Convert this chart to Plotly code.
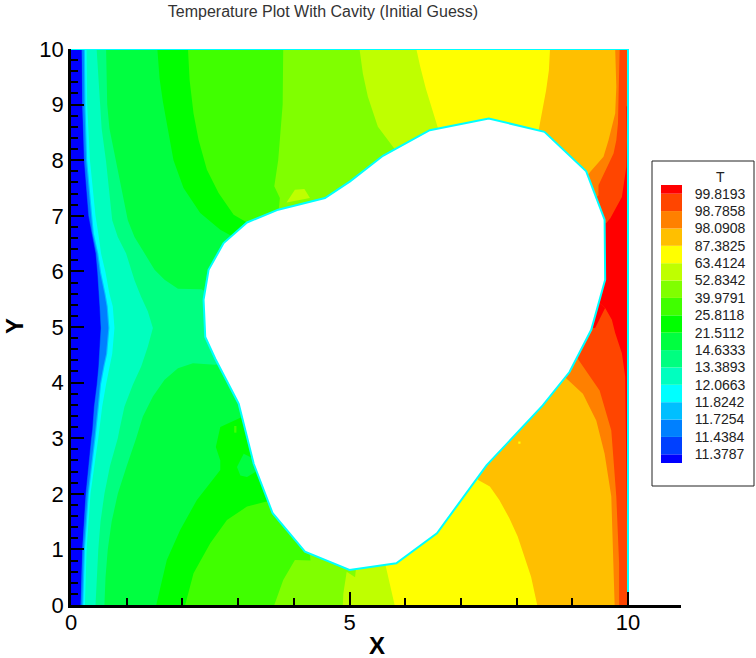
import plotly.graph_objects as go

W, H = 756, 658

# Contour band colours, lowest temperature first
band_colors = ["#0000FF", "#0040FF", "#0080FF", "#00BFFF", "#00FFFF", "#00FFBF", "#00FF80", "#00FF40",
               "#00FF00", "#40FF00", "#80FF00", "#BFFF00", "#FFFF00", "#FFBF00", "#FF8000", "#FF4500", "#FF0000"]
legend_labels = ["11.3787", "11.4384", "11.7254", "11.8242", "12.0663", "13.3893", "14.6333", "21.5112",
                 "25.8118", "39.9791", "52.8342", "63.4124", "87.3825", "98.0908", "98.7858", "99.8193"]

domain_x = [0, 10, 10, 0]
domain_y = [0, 0, 10, 10]

# Isolines, top of the domain to bottom; everything to the right is the next band
iso_y = [10, 9, 8, 7, 6.68, 6.32, 5.98, 5.6, 5.37, 4.98, 4.52, 4.29, 3.97, 3.57, 3.15, 3, 2, 1, 0]
iso_0040FF_x = [.19, .20, .23, .31, .37, .44, .47, .50, .51, .53, .51, .49, .46, .41, .38, .36, .26, .20, .17]
iso_0080FF_x = [.195, .205, .24, .32, .38, .45, .48, .51, .52, .54, .52, .50, .47, .42, .39, .37, .27, .205, .175]
iso_00BFFF_x = [.23, .24, .27, .36, .39, .47, .52, .60, .64, .67, .63, .58, .52, .48, .44, .42, .30, .23, .20]
iso_00FFFF_x = [.25, .26, .29, .38, .41, .49, .54, .62, .66, .69, .65, .60, .54, .50, .46, .44, .32, .25, .22]
iso_00FFBF_x = [.28, .29, .34, .44, .49, .54, .62, .69, .75, .78, .74, .69, .63, .56, .51, .49, .35, .28, .25]

iso_00FF80 = [(.46, 10), (.49, 9.47), (.55, 8.57), (.63, 7.97), (.74, 6.92), (.84, 6.62), (.99, 6.32), (1.14, 5.84),
              (1.26, 5.54), (1.38, 5.28), (1.47, 4.98), (1.38, 4.65), (1.26, 4.29), (1.11, 3.96), (.96, 3.57),
              (.87, 3.15), (.84, 3), (.70, 2.5), (.60, 2), (.53, 1.5), (.49, 1), (.44, 0)]
iso_00FF40 = [(.63, 10), (.65, 9), (.69, 8.57), (.81, 7.97), (1.02, 6.92), (1.14, 6.62), (1.32, 6.32), (1.5, 6.03),
              (1.68, 5.85), (1.92, 5.69), (2.34, 5.68), (2.5, 5.6), (2.7, 4.34), (2.58, 4.32), (2.19, 4.35),
              (1.92, 4.26), (1.68, 4.05), (1.47, 3.75), (1.29, 3.39), (1.17, 3), (1.0, 2.5), (.84, 2), (.73, 1.5),
              (.66, 1), (.62, .5), (.6, 0)]
iso_00FF00 = [(1.55, 10), (1.59, 9.47), (1.65, 9.05), (1.74, 8.57), (1.84, 8), (2.02, 7.5), (2.32, 7.05), (2.68, 6.75),
              (2.95, 6.6), (3.3, 3.4), (3.04, 3.37), (2.68, 3.2), (2.6, 2.84), (2.68, 2.6), (2.68, 2.43), (2.26, 1.89),
              (1.96, 1.35), (1.72, .81), (1.53, 0)]
iso_40FF00 = [(2.1, 10), (2.13, 9.44), (2.2, 8.84), (2.29, 8.37), (2.44, 7.83), (2.65, 7.41), (2.92, 7.02), (3.16, 6.88),
              (3.3, 6.75), (3.7, 1.85), (3.51, 1.86), (3.16, 1.77), (2.8, 1.53), (2.5, 1.11), (2.2, .57), (2.05, 0)]
iso_80FF00 = [(3.81, 10), (3.8, 9), (3.76, 8.5), (3.72, 8), (3.65, 7.53), (3.75, 7.32), (3.72, 7.0), (4.3, .8),
              (4.02, .81), (3.81, .45), (3.65, 0)]
iso_BFFF00 = [(5.18, 10), (5.24, 9.56), (5.33, 9.14), (5.51, 8.6), (5.81, 8.2), (5.9, 8.0), (5.1, .5), (4.95, .6),
              (4.89, .21), (4.88, 0)]
iso_FFFF00 = [(6.2, 10), (6.27, 9.68), (6.37, 9.29), (6.47, 8.96), (6.59, 8.57), (6.7, 8.3), (5.75, 1.0), (5.65, .7), (5.81, 0)]
iso_FFBF00 = [(8.6, 10), (8.58, 9.62), (8.53, 9.26), (8.46, 8.84), (8.4, 8.56), (8.3, 8.2), (7.2, 2.6), (7.31, 2.25),
              (7.52, 2.13), (7.69, 1.89), (7.87, 1.56), (8.02, 1.23), (8.14, .87), (8.26, .51), (8.37, 0)]
iso_FF8000 = [(9.77, 10), (9.79, 9.32), (9.77, 8.84), (9.7, 8.55), (9.65, 8.36), (9.56, 8.06), (9.32, 7.79), (9.1, 7.5),
              (8.7, 4.3), (8.89, 4.08), (9.19, 3.8), (9.43, 3.32), (9.58, 2.72), (9.7, 1.95), (9.73, 1.05), (9.76, 0)]
iso_FF4500 = [(9.85, 10), (9.84, 9.32), (9.82, 8.66), (9.79, 8.36), (9.74, 8.12), (9.47, 7.55), (9.47, 7.37), (9.3, 7.2),
              (9.0, 4.6), (9.11, 4.41), (9.26, 4.2), (9.49, 3.86), (9.7, 3.14), (9.79, 1.95), (9.84, .75), (9.84, 0)]
iso_FF0000 = [(10, 10), (10, 9), (9.97, 8.96), (9.98, 8.36), (9.97, 7.88), (9.89, 7.34), (9.68, 6.95), (9.61, 6.87),
              (9.3, 6.8), (9.3, 5.6), (9.59, 5.34), (9.71, 5.13), (9.77, 4.89), (9.89, 4.53), (9.95, 4.11), (9.97, 2.54),
              (10, .27), (10, 0)]

# Small islands inside a band
island_green_x = [3.28, 3.1, 2.98, 3.04, 3.16, 3.31]
island_green_y = [2.63, 2.72, 2.48, 2.33, 2.3, 2.39]
speck_lime_x = [2.93, 2.97, 2.97, 2.93]
speck_lime_y = [3.22, 3.22, 3.1, 3.1]
island_yellowgreen_x = [4.02, 4.19, 4.29, 3.87]
island_yellowgreen_y = [7.47, 7.48, 7.32, 7.24]
speck_yellow_x = [8.03, 8.07, 8.07, 8.03]
speck_yellow_y = [2.94, 2.94, 2.9, 2.9]
wedge_red_x = [9.3, 9.59, 9.41, 9.2]
wedge_red_y = [5.6, 5.34, 4.98, 5.0]

# Cavity outline
cavity_x = [2.38, 2.47, 2.74, 3.16, 3.72, 4.56, 5.01, 5.6, 6.44, 7.5, 8.5, 9.25, 9.58, 9.59, 9.34, 8.95, 8.47, 7.46,
            6.57, 5.84, 5.0, 4.2, 3.62, 3.28, 3.01, 2.59, 2.41, 2.38]
cavity_y = [5.49, 6.03, 6.51, 6.88, 7.11, 7.32, 7.62, 8.08, 8.54, 8.75, 8.51, 7.8, 6.93, 5.85, 4.95, 4.19, 3.59, 2.51,
            1.29, .75, .63, .96, 1.65, 2.54, 3.62, 4.43, 4.82, 5.49]

edge_x = [0, 10, 10]
edge_y = [10, 10, 0]

x_ticks = [0, 5, 10]
x_minor_ticks = [1, 2, 3, 4, 6, 7, 8, 9]
y_ticks = [0, 1, 2, 3, 4, 5, 6, 7, 8, 9, 10]

fig = go.Figure()


def poly(xs, ys, color):
    fig.add_trace(go.Scatter(x=xs, y=ys, mode="lines", fill="toself", fillcolor=color,
                             line=dict(width=0, color=color), hoverinfo="skip", showlegend=False))


def right_of(pts, color):
    xs = [p[0] for p in pts] + [10, 10]
    ys = [p[1] for p in pts] + [0, 10]
    poly(xs, ys, color)


poly(domain_x, domain_y, band_colors[0])
for xs, c in zip([iso_0040FF_x, iso_0080FF_x, iso_00BFFF_x, iso_00FFFF_x, iso_00FFBF_x], band_colors[1:6]):
    right_of(list(zip(xs, iso_y)), c)
for pts, c in zip([iso_00FF80, iso_00FF40, iso_00FF00, iso_40FF00, iso_80FF00, iso_BFFF00, iso_FFFF00, iso_FFBF00,
                   iso_FF8000, iso_FF4500, iso_FF0000], band_colors[6:]):
    right_of(pts, c)

poly(island_green_x, island_green_y, "#00FF40")
poly(speck_lime_x, speck_lime_y, "#40FF00")
poly(island_yellowgreen_x, island_yellowgreen_y, "#BFFF00")
poly(speck_yellow_x, speck_yellow_y, "#FFFF00")
poly(wedge_red_x, wedge_red_y, "#FF0000")

fig.add_trace(go.Scatter(x=edge_x, y=edge_y, mode="lines", line=dict(color="#00FFFF", width=2),
                         hoverinfo="skip", showlegend=False, cliponaxis=False))
fig.add_trace(go.Scatter(x=cavity_x, y=cavity_y, mode="lines", fill="toself", fillcolor="#FFFFFF",
                         line=dict(color="#00FFFF", width=2), hoverinfo="skip", showlegend=False))

# Colour bar: half a swatch at both ends, labels on the swatch boundaries
heights = [0.5] + [1] * 15 + [0.5]
bases = [sum(heights[:i]) for i in range(len(heights))]
fig.add_trace(go.Bar(x=["T"] * len(heights), y=heights, base=bases, width=1, marker=dict(color=band_colors, line=dict(width=0)),
                     xaxis="x2", yaxis="y2", hoverinfo="skip", showlegend=False))

font_main = "Liberation Sans"
axis_title_font = dict(family=font_main, size=24, color="black")
fig.update_layout(
    width=W, height=H, autosize=False, margin=dict(l=0, r=0, t=0, b=0, autoexpand=False),
    paper_bgcolor="white", plot_bgcolor="white", barmode="overlay",
    title=dict(text="Temperature Plot With Cavity (Initial Guess)", x=323 / W, xanchor="center",
               y=1 - 11 / H, yanchor="middle", font=dict(family=font_main, size=16, color="#333333")),
    xaxis=dict(domain=[71 / W, 681 / W], range=[0, 610 / 55.7], tickmode="array", tickvals=x_ticks, automargin=False,
               ticks="inside", ticklen=13, tickwidth=2, tickcolor="black", showgrid=False, zeroline=False,
               ticklabelstandoff=-4,
               showline=True, linecolor="black", linewidth=2.5, tickfont=dict(family=font_main, size=22, color="black"),
               minor=dict(tickvals=x_minor_ticks, ticks="inside", ticklen=7, tickwidth=1.5, tickcolor="black")),
    yaxis=dict(domain=[53 / H, 609 / H], range=[0, 10], tickmode="array", tickvals=y_ticks, automargin=False,
               ticks="inside", ticklen=13, tickwidth=2, tickcolor="black", showgrid=False, zeroline=False,
               showline=True, linecolor="black", linewidth=2.5, tickfont=dict(family=font_main, size=22, color="black"),
               minor=dict(dtick=0.2, ticks="inside", ticklen=7, tickwidth=1.5, tickcolor="black")),
    xaxis2=dict(domain=[661 / W, 682 / W], anchor="y2", visible=False, range=[-0.5, 0.5], automargin=False),
    yaxis2=dict(domain=[(H - 463) / H, (H - 185) / H], anchor="x2", side="right", range=[0, 16], automargin=False,
                tickmode="array", tickvals=[b + 0.5 for b in range(16)], ticktext=legend_labels,
                ticks="outside", ticklen=9, tickcolor="rgba(0,0,0,0)", showgrid=False, zeroline=False, showline=False,
                tickfont=dict(family=font_main, size=14, color="#222222")),
    shapes=[dict(type="rect", xref="paper", yref="paper", x0=652 / W, x1=754 / W, y0=1 - 486 / H, y1=1 - 161 / H,
                 line=dict(color="#222222", width=1), fillcolor="rgba(0,0,0,0)", layer="below")],
    annotations=[
        dict(text="T", xref="paper", yref="paper", x=720 / W, y=1 - 177 / H, showarrow=False,
             xanchor="center", yanchor="middle", font=dict(family=font_main, size=14, color="#222222")),
        dict(text="<b>X</b>", xref="paper", yref="paper", x=377 / W, y=1 - 645 / H, showarrow=False,
             xanchor="center", yanchor="middle", font=axis_title_font),
        dict(text="<b>Y</b>", xref="paper", yref="paper", x=14 / W, y=1 - 326 / H, showarrow=False, textangle=-90,
             xanchor="center", yanchor="middle", font=axis_title_font),
    ],
)

fig.write_html("out.html", config=dict(displayModeBar=False),
               post_script="document.body.style.margin='0';document.body.style.overflow='hidden';")
